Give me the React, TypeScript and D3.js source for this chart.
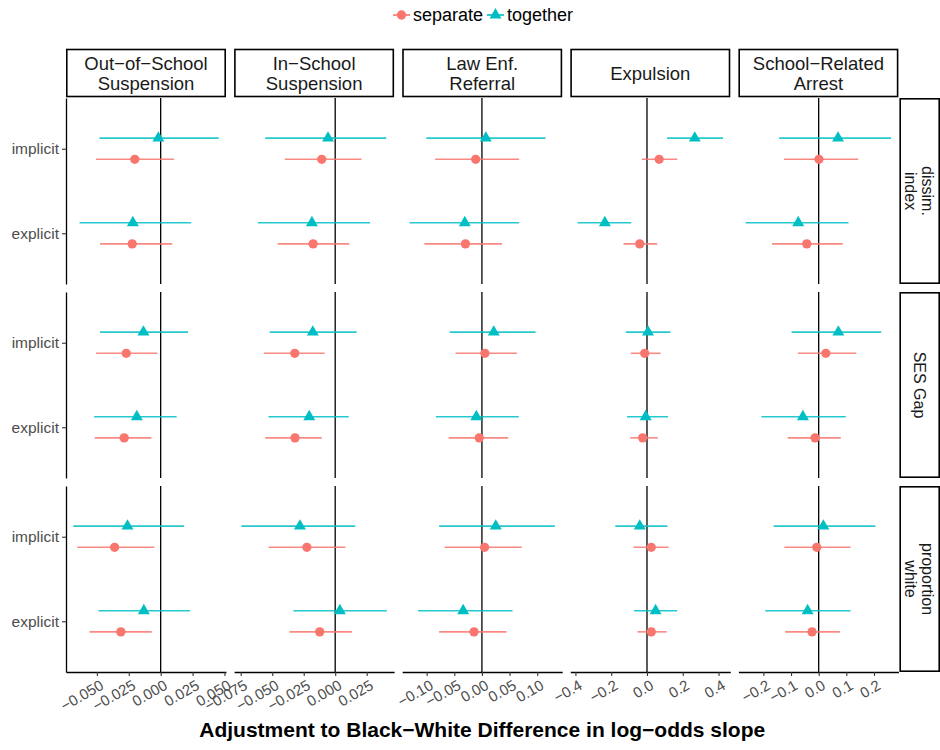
import * as React from 'react';
import { select, scaleLinear, scalePoint, format, symbol, symbolCircle, symbolTriangle, axisBottom, axisLeft, min, max } from 'd3';

// facet columns / rows
const outcomes = ["Out−of−School\nSuspension", "In−School\nSuspension", "Law Enf.\nReferral", "Expulsion", "School−Related\nArrest"];
const measures = ["dissim.\nindex", "SES Gap", "proportion\nwhite"];
const biasTypes = ["implicit", "explicit"];
const models = ["separate", "together"];
const modelColors = ["#F8766D", "#00BFC4"];

// per outcome, 6 values: dissim impl, dissim expl, SES impl, SES expl, prop white impl, prop white expl
const separateEst = [
    [-0.0203, -0.0223, -0.027, -0.0286, -0.0361, -0.0312],
    [-0.0107, -0.0175, -0.0321, -0.0319, -0.0225, -0.0123],
    [-0.0113, -0.0298, 0.0054, -0.0048, 0.0048, -0.0143],
    [0.068, -0.0405, -0.0129, -0.024, 0.024, 0.024],
    [0.001, -0.043, 0.026, -0.013, -0.007, -0.024],
];
const separateLo = [
    [-0.0506, -0.0475, -0.0506, -0.0517, -0.0654, -0.0558],
    [-0.04, -0.0457, -0.0567, -0.0556, -0.0528, -0.0363],
    [-0.0845, -0.104, -0.0476, -0.0601, -0.0673, -0.0774],
    [-0.029, -0.131, -0.09, -0.094, -0.0754, -0.053],
    [-0.125, -0.169, -0.075, -0.112, -0.124, -0.121],
];
const separateHi = [
    [0.0104, 0.0091, -0.0026, -0.0073, -0.0049, -0.007],
    [0.0209, 0.0112, -0.0084, -0.0107, 0.0081, 0.0133],
    [0.0673, 0.0363, 0.0631, 0.0476, 0.072, 0.0446],
    [0.169, 0.057, 0.0754, 0.0607, 0.121, 0.110],
    [0.143, 0.087, 0.136, 0.080, 0.115, 0.077],
];
const togetherEst = [
    [-0.0018, -0.0218, -0.0135, -0.0187, -0.026, -0.0132],
    [-0.0057, -0.0185, -0.0178, -0.0206, -0.028, 0.0037],
    [0.0071, -0.031, 0.0214, -0.0101, 0.025, -0.0339],
    [0.267, -0.2355, 0.0055, -0.0074, -0.0405, 0.048],
    [0.070, -0.074, 0.071, -0.057, 0.017, -0.040],
];
const togetherLo = [
    [-0.048, -0.0636, -0.0475, -0.0522, -0.0685, -0.0488],
    [-0.0556, -0.0614, -0.052, -0.053, -0.0745, -0.0332],
    [-0.1006, -0.131, -0.0583, -0.0833, -0.0774, -0.1155],
    [0.112, -0.388, -0.118, -0.112, -0.177, -0.0718],
    [-0.143, -0.264, -0.098, -0.207, -0.163, -0.193],
];
const togetherHi = [
    [0.0455, 0.0239, 0.0215, 0.0125, 0.0184, 0.0231],
    [0.0405, 0.0277, 0.017, 0.0107, 0.0159, 0.041],
    [0.1149, 0.0673, 0.097, 0.0667, 0.132, 0.0554],
    [0.425, -0.088, 0.131, 0.118, 0.114, 0.169],
    [0.262, 0.108, 0.226, 0.098, 0.205, 0.115],
];

const tickValues = [
    [-0.05, -0.025, 0, 0.025, 0.05],
    [-0.075, -0.05, -0.025, 0, 0.025],
    [-0.1, -0.05, 0, 0.05, 0.1],
    [-0.4, -0.2, 0, 0.2, 0.4],
    [-0.2, -0.1, 0, 0.1, 0.2],
];
const tickFormats = [".3f", ".3f", ".2f", ".1f", ".1f"];

const FONT = "'Liberation Sans', Arial, Helvetica, sans-serif";

const App = () => {
    const svgRef = React.useRef<SVGSVGElement>(null);

    React.useEffect(() => {
        if (!svgRef.current) return;
        const svg = select(svgRef.current);
        svg.selectAll("*").remove();
        svg.style("font-family", FONT);

        const left0 = 66, panelW = 160, gapX = 8.1;
        const top0 = 98, panelH = 186, gapY = 8;
        const stripTop = 49.5;
        const est = [separateEst, togetherEst];
        const los = [separateLo, togetherLo];
        const his = [separateHi, togetherHi];
        const shapes = [symbolCircle, symbolTriangle];
        const sizes = [68, 62];

        // legend
        const legend = svg.append("g").attr("transform", "translate(0, 15)");
        const legendX = [393, 487];
        models.forEach((m, i) => {
            const g = legend.append("g").attr("transform", `translate(${legendX[i]}, 0)`);
            g.append("line").attr("x1", 0).attr("x2", 17).attr("stroke", modelColors[i]).attr("stroke-width", 1.6);
            g.append("path").attr("d", symbol(shapes[i], sizes[i])()).attr("transform", "translate(8.5, 0)").attr("fill", modelColors[i]);
            g.append("text").attr("x", 20).attr("dy", "0.35em").style("font-size", "18px").attr("fill", "#000").text(m);
        });

        outcomes.forEach((outcome, c) => {
            const px = left0 + c * (panelW + gapX);
            const all = [...los[0][c], ...los[1][c], ...his[0][c], ...his[1][c]];
            const lo = min(all)!, hi = max(all)!;
            const pad = (hi - lo) * 0.05;
            const x = scaleLinear().domain([lo - pad, hi + pad]).range([px, px + panelW]);

            // column strip
            svg.append("rect").attr("x", px + 0.8).attr("y", stripTop).attr("width", panelW - 1.6).attr("height", top0 - stripTop - 1.5)
                .attr("fill", "white").attr("stroke", "#000").attr("stroke-width", 1.6);
            const lines = outcome.split("\n");
            const midY = (stripTop + top0 - 1.5) / 2;
            lines.forEach((ln, k) => {
                svg.append("text").attr("x", px + panelW / 2).attr("y", midY + (k - (lines.length - 1) / 2) * 20)
                    .attr("dy", "0.36em").attr("text-anchor", "middle").style("font-size", "18.5px").attr("fill", "#1A1A1A").text(ln);
            });

            measures.forEach((measure, r) => {
                const py = top0 + r * (panelH + gapY);
                const y = scalePoint<string>().domain(biasTypes).range([py, py + panelH]).padding(0.6);
                const off = y.step() * 0.125;
                const g = svg.append("g");

                g.append("line").attr("x1", x(0)).attr("x2", x(0)).attr("y1", py).attr("y2", py + panelH)
                    .attr("stroke", "#000").attr("stroke-width", 1.3);

                models.forEach((m, mi) => {
                    const dy = mi === 0 ? off : -off;
                    biasTypes.forEach((b, bi) => {
                        const idx = r * 2 + bi;
                        const yy = y(b)! + dy;
                        g.append("line").attr("x1", x(los[mi][c][idx])).attr("x2", x(his[mi][c][idx]))
                            .attr("y1", yy).attr("y2", yy).attr("stroke", modelColors[mi]).attr("stroke-width", 1.6).attr("stroke-opacity", 0.85);
                        g.append("path").attr("d", symbol(shapes[mi], sizes[mi])())
                            .attr("transform", `translate(${x(est[mi][c][idx])}, ${yy})`).attr("fill", modelColors[mi]);
                    });
                });

                if (c === 0) {
                    const ya = svg.append("g").attr("transform", `translate(${px}, 0)`)
                        .call(axisLeft(y).tickSize(4).tickSizeOuter(0).tickPadding(3) as any);
                    ya.select(".domain").attr("stroke", "#000").attr("stroke-width", 1.3);
                    ya.selectAll("line").attr("stroke", "#333").attr("stroke-width", 1.1);
                    ya.selectAll("text").style("font-size", "15.5px").style("font-family", FONT).attr("fill", "#4D4D4D");
                }

                if (c === outcomes.length - 1) {
                    const sx = px + panelW + 1;
                    svg.append("rect").attr("x", sx + 0.8).attr("y", py + 0.8).attr("width", 939.2 - sx - 0.8).attr("height", panelH - 1.6)
                        .attr("fill", "white").attr("stroke", "#000").attr("stroke-width", 1.6);
                    const cx = (sx + 939.2) / 2, cy = py + panelH / 2;
                    const mlines = measure.split("\n");
                    const tg = svg.append("g").attr("transform", `translate(${cx}, ${cy}) rotate(90)`);
                    mlines.forEach((ln, k) => {
                        tg.append("text").attr("x", 0).attr("y", (k - (mlines.length - 1) / 2) * 17.5).attr("dy", "0.36em")
                            .attr("text-anchor", "middle").style("font-size", "16px").attr("fill", "#1A1A1A").text(ln);
                    });
                }

                if (r === measures.length - 1) {
                    const xa = svg.append("g").attr("transform", `translate(0, ${py + panelH})`)
                        .call(axisBottom(x).tickValues(tickValues[c]).tickFormat(format(tickFormats[c]) as any).tickSize(4).tickSizeOuter(0) as any);
                    xa.select(".domain").attr("stroke", "#000").attr("stroke-width", 1.3);
                    xa.selectAll("line").attr("stroke", "#333").attr("stroke-width", 1.1);
                    xa.selectAll("text")
                        .style("font-size", "15px").style("font-family", FONT).attr("fill", "#4D4D4D")
                        .attr("text-anchor", "end").attr("y", 0).attr("dy", "0.71em")
                        .attr("transform", "translate(2, 7) rotate(-30)");
                }
            });
        });

        svg.append("text").attr("x", (left0 + left0 + 5 * panelW + 4 * gapX) / 2).attr("y", 737)
            .attr("text-anchor", "middle").style("font-size", "21px").style("font-weight", "bold").attr("fill", "#000")
            .text("Adjustment to Black−White Difference in log−odds slope");
    }, [svgRef]);

    return (
        <div style={{ position: 'absolute', left: 0, top: 0, width: 940, height: 750, background: 'white' }}>
            <svg ref={svgRef} width={940} height={750}></svg>
        </div>
    );
};

export default App;
